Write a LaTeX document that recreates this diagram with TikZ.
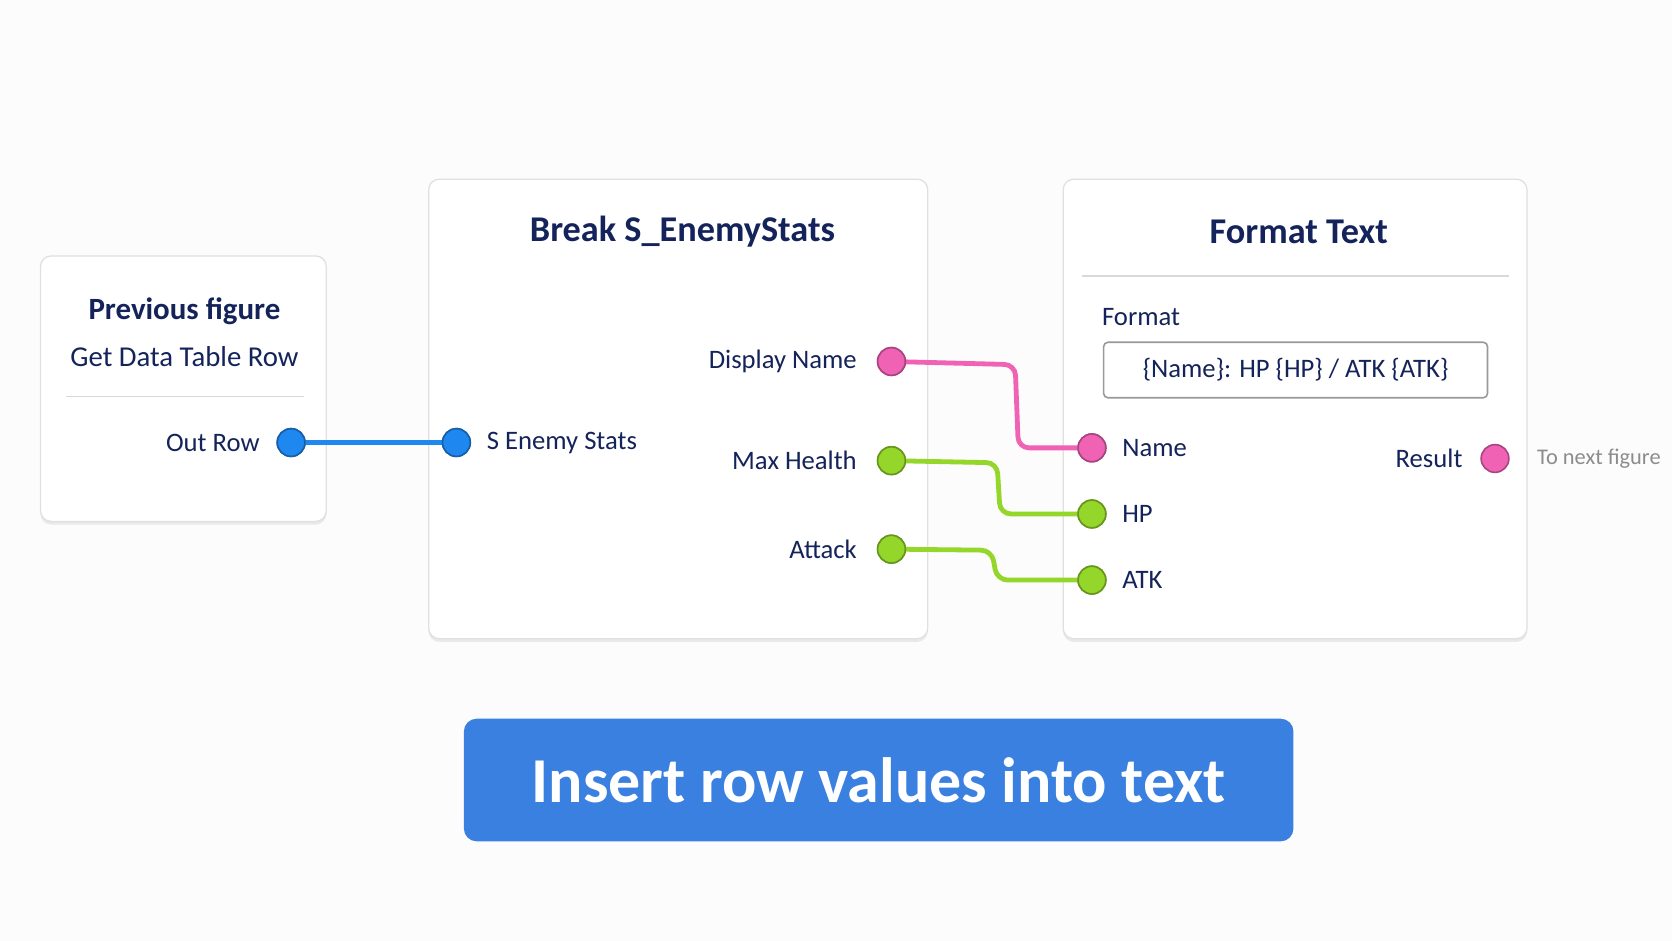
\documentclass[tikz,border=0pt]{standalone}
\usepackage{fontspec}
\setmainfont{Carlito}
\usetikzlibrary{shadows}
\definecolor{navy}{HTML}{14245A}
\definecolor{pinb}{HTML}{1E88F0}
\definecolor{pinp}{HTML}{F062B4}
\definecolor{ping}{HTML}{94D62A}
\definecolor{band}{HTML}{3A80E0}
\begin{document}
\begin{tikzpicture}[x=1pt,y=-1pt,
  box/.style={draw=black!12,line width=1.2pt,fill=white,rounded corners=10pt,drop shadow={shadow xshift=0pt,shadow yshift=-3pt,opacity=.15}},
  ttl/.style={text=navy,font=\fontsize{34}{38}\selectfont\bfseries},
  lbl/.style={text=navy,font=\fontsize{25}{28}\selectfont},
  pin/.style={circle,minimum size=26pt,inner sep=0pt,line width=1.5pt},
  bp/.style={pin,fill=pinb,draw=pinb!70!black},
  pp/.style={pin,fill=pinp,draw=pinp!70!black},
  gp/.style={pin,fill=ping,draw=ping!70!black},
  wire/.style={line width=4.5pt,rounded corners=10pt}]
\useasboundingbox (0,0) rectangle (1568,882);
\fill[black!1] (0,0) rectangle (1568,882);
% boxes
\node[box,minimum width=268pt,minimum height=249pt,inner sep=0pt] (prev) at (172,364.5) {};
\node[box,minimum width=468pt,minimum height=431pt,inner sep=0pt] (brk) at (636,383.5) {};
\node[box,minimum width=435pt,minimum height=431pt,inner sep=0pt] (fmt) at (1214.5,383.5) {};
% prev
\node[ttl,font=\fontsize{29}{32}\selectfont\bfseries] (p1) at (173,292) {Previous figure};
\node[lbl,font=\fontsize{27}{30}\selectfont] (p2) at (173,334) {Get Data Table Row};
\draw[black!15,line width=1.5pt] (62,372) -- (285,372);
\node[lbl,anchor=east] (outl) at (247,415) {Out Row};
\node[bp] (out) at (273,415) {};
% break
\node[ttl] (bt) at (640,217) {Break S\_EnemyStats};
\node[bp] (sin) at (428,415) {};
\node[lbl,anchor=west] (sinl) at (453,415) {S Enemy Stats};
\node[pp] (dn) at (836,339) {};
\node[lbl,anchor=east] (dnl) at (807,339) {Display Name};
\node[gp] (mh) at (836,432) {};
\node[lbl,anchor=east] (mhl) at (807,432) {Max Health};
\node[gp] (at) at (836,515) {};
\node[lbl,anchor=east] (atl) at (807,515) {Attack};
% format
\node[ttl] (ft) at (1218,217) {Format Text};
\draw[black!15,line width=1.5pt] (1015,259) -- (1415,259);
\node[lbl,anchor=west] (fl) at (1030,297) {Format};
\node[draw=black!40,line width=1.5pt,rounded corners=4pt,minimum width=360pt,minimum height=52pt,lbl] (fbox) at (1215,347) {\{Name\}: HP \{HP\} / ATK \{ATK\}};
\node[pp] (nm) at (1024,420) {};
\node[lbl,anchor=west] (nml) at (1049,420) {Name};
\node[gp] (hp) at (1024,482) {};
\node[lbl,anchor=west] (hpl) at (1049,482) {HP};
\node[gp] (ak) at (1024,544) {};
\node[lbl,anchor=west] (akl) at (1049,544) {ATK};
\node[pp] (res) at (1402,430) {};
\node[lbl,anchor=east] (resl) at (1375,430) {Result};
\node[anchor=west,text=black!45,font=\fontsize{21}{24}\selectfont] (nx) at (1438,430) {To next figure};
% wires
\draw[wire,pinb] (out) -- (sin);
\draw[wire,pinp] (dn) -- (952,342) -- (955,420) -- (nm);
\draw[wire,ping] (mh) -- (935,434) -- (938,482) -- (hp);
\draw[wire,ping] (at) -- (930,516) -- (935,544) -- (ak);
\node[pp] at (dn) {};\node[pp] at (nm) {};
\node[gp] at (mh) {};\node[gp] at (hp) {};\node[gp] at (at) {};\node[gp] at (ak) {};
\node[bp] at (out) {};\node[bp] at (sin) {};
% banner
\node[fill=band,rounded corners=12pt,minimum width=778pt,minimum height=115pt,text=white,font=\fontsize{60}{66}\selectfont\bfseries] (ban) at (824,731.5) {Insert row values into text};
\end{tikzpicture}
\end{document}
